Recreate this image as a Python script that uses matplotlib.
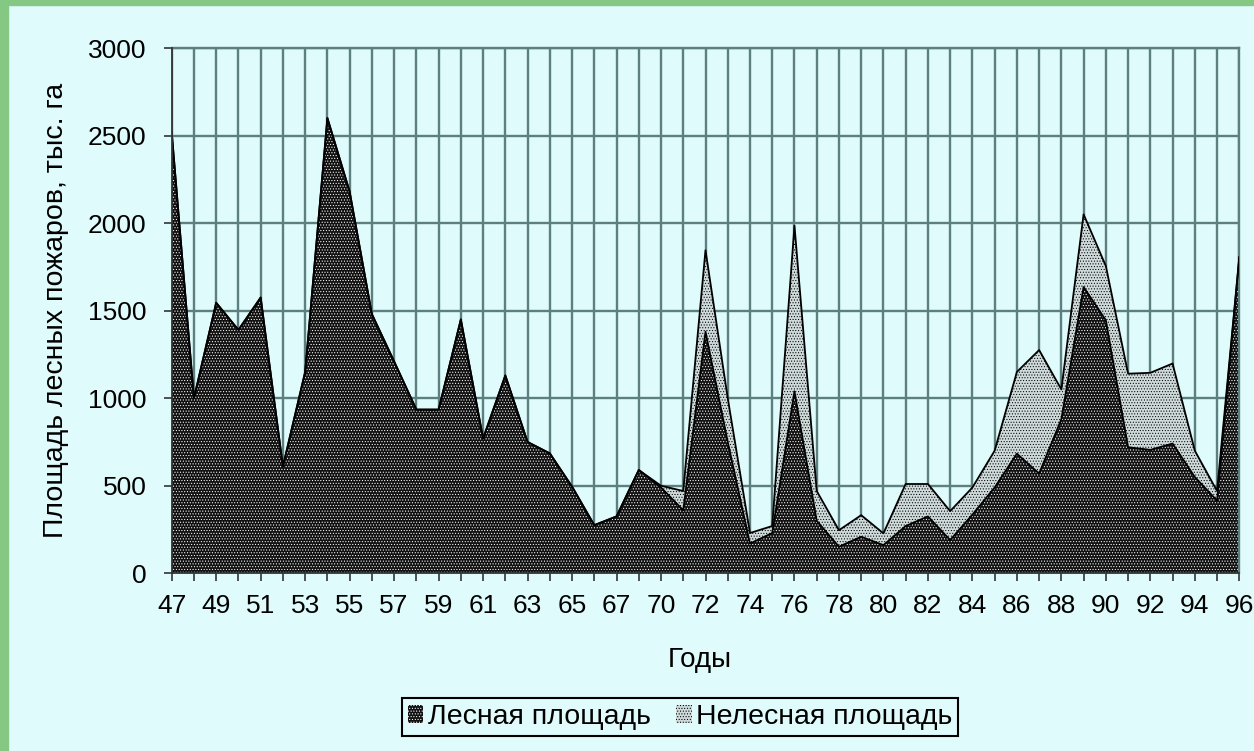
import numpy as np
import matplotlib
matplotlib.use('Agg')
import matplotlib.pyplot as plt
from matplotlib.patches import Patch, Rectangle

plt.rcParams['font.family'] = ['Liberation Sans', 'DejaVu Sans']
plt.rcParams['hatch.linewidth'] = 0.45

# годы (68/69 в исходной таблице один, подписи идут через один)
years = ['47', '48', '49', '50', '51', '52', '53', '54', '55', '56',
         '57', '58', '59', '60', '61', '62', '63', '64', '65', '66',
         '67', '68', '70', '71', '72', '73', '74', '75', '76', '77',
         '78', '79', '80', '81', '82', '83', '84', '85', '86', '87',
         '88', '89', '90', '91', '92', '93', '94', '95', '96']

# лесная площадь, тыс. га
forest = [2520, 1000, 1545, 1390, 1575, 610, 1150, 2600, 2180, 1480,
          1210, 935, 935, 1450, 770, 1130, 750, 685, 495, 275,
          325, 590, 490, 360, 1380, 750, 170, 230, 1040, 300,
          152, 209, 161, 270, 325, 190, 335, 490, 683, 570,
          880, 1635, 1445, 720, 705, 741, 550, 415, 1805]

# общая площадь (лесная + нелесная), тыс. га
total = [2520, 1000, 1545, 1390, 1575, 610, 1150, 2600, 2180, 1480,
         1210, 935, 935, 1450, 770, 1130, 750, 685, 495, 275,
         325, 590, 500, 470, 1845, 1000, 230, 270, 1985, 470,
         246, 332, 228, 510, 510, 355, 490, 700, 1150, 1275,
         1050, 2050, 1755, 1140, 1145, 1198, 700, 470, 1805]

nonforest = [t - f for t, f in zip(total, forest)]

W, H = 1254, 751
bg = '#dffbfb'
green = '#84c884'
grid_c = '#5e7f7f'
dark = '#111111'
light = '#cfdada'

fig = plt.figure(figsize=(W / 100, H / 100), dpi=100)
fig.patch.set_facecolor(bg)
fig.add_artist(Rectangle((0, 0), 8 / W, 1, transform=fig.transFigure,
                         color=green, zorder=0))
fig.add_artist(Rectangle((0, 1 - 5 / H), 1, 5 / H, transform=fig.transFigure,
                         color=green, zorder=0))

x0, x1 = 171.7, 1239.3
y0, y1 = 573.3, 48
ax = fig.add_axes([x0 / W, 1 - y0 / H, (x1 - x0) / W, (y0 - y1) / H])
ax.set_facecolor('none')

x = np.arange(len(years))
f = np.array(forest)
nf = np.array(nonforest)

ax.fill_between(x, 0, f, facecolor=dark, edgecolor='white',
                linewidth=0, hatch='......', zorder=2)
ax.fill_between(x, f, f + nf, facecolor=light, edgecolor='black',
                linewidth=0, hatch='......', zorder=2)
ax.plot(x, f, color='black', lw=1.3, zorder=3)
ax.plot(x, f + nf, color='black', lw=1.3, zorder=3)

ax.set_xlim(0, len(years) - 1)
ax.set_ylim(0, 3000)
ax.set_xticks(x)
ax.set_xticklabels([y if i % 2 == 0 else '' for i, y in enumerate(years)])
ax.set_yticks(np.arange(0, 3001, 500))
ax.grid(True, color=grid_c, lw=1.7, zorder=0)
ax.set_axisbelow(True)

for s in ['top', 'right']:
    ax.spines[s].set_color(grid_c)
    ax.spines[s].set_linewidth(1.7)
for s in ['left', 'bottom']:
    ax.spines[s].set_color('#333333')
    ax.spines[s].set_linewidth(1.3)
    ax.spines[s].set_zorder(4)

ax.tick_params(axis='both', direction='out', length=6, width=1.2,
               color='#333333', labelsize=19, colors='black')
ax.tick_params(axis='x', pad=9)
ax.tick_params(axis='y', pad=12)

ax.set_ylabel('Площадь лесных пожаров, тыс. га', fontsize=20.5, labelpad=14)
fig.text(700 / W, 1 - 660 / H, 'Годы', fontsize=20, ha='center', va='center')

handles = [Patch(facecolor=dark, edgecolor='white', linewidth=0,
                 hatch='......', label='Лесная площадь'),
           Patch(facecolor=light, edgecolor='black', linewidth=0,
                 hatch='......', label='Нелесная площадь')]
leg = fig.legend(handles=handles, loc='center', ncol=2,
                 bbox_to_anchor=(680 / W, 1 - 717 / H), fontsize=20.5,
                 frameon=True, fancybox=False, facecolor=bg,
                 edgecolor='black', framealpha=1, handlelength=0.55,
                 handleheight=0.55, handletextpad=0.15, columnspacing=0.9,
                 borderpad=0.2, borderaxespad=0)
leg.get_frame().set_linewidth(1.5)

fig.savefig('out.png', dpi=100, facecolor=fig.get_facecolor())
